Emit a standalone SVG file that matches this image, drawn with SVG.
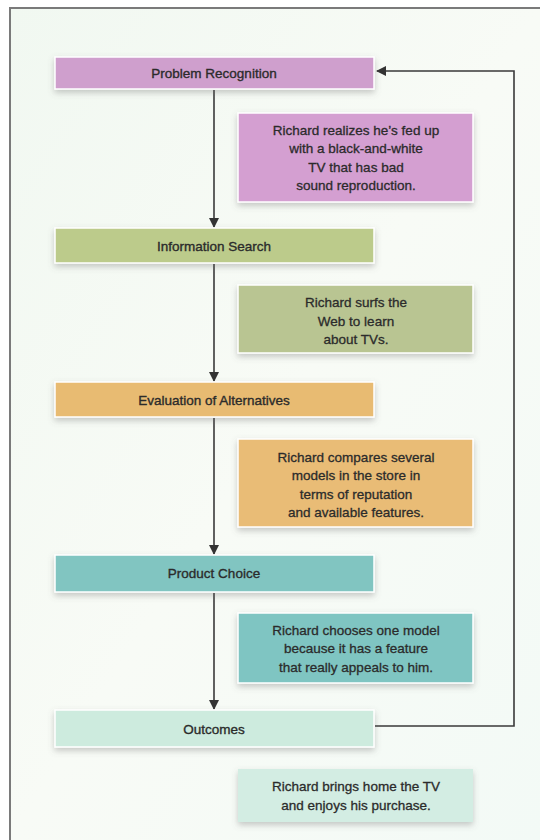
<svg xmlns="http://www.w3.org/2000/svg" width="540" height="840" viewBox="0 0 540 840">
<defs>
<linearGradient id="bg" x1="0" y1="0" x2="1" y2="1">
<stop offset="0" stop-color="#f1f8f1"/>
<stop offset="0.5" stop-color="#f8fbf6"/>
<stop offset="1" stop-color="#f3faf6"/>
</linearGradient>
<filter id="sh" x="-10%" y="-30%" width="120%" height="170%">
<feDropShadow dx="0" dy="3" stdDeviation="3" flood-color="#666" flood-opacity="0.35"/>
</filter>
<marker id="ah" viewBox="0 0 10 10" refX="9" refY="5" markerWidth="10" markerHeight="11" markerUnits="userSpaceOnUse" orient="auto">
<path d="M0,0 L10,5 L0,10 z" fill="#333"/>
</marker>
</defs>
<style>
.t{font-family:"Liberation Sans","DejaVu Sans",Arial,sans-serif;font-size:13.5px;fill:#2b2b2b;stroke:#2b2b2b;stroke-width:0.35;text-anchor:middle}
.box{stroke:#ffffff;stroke-width:1.5;filter:url(#sh)}
.d{font-family:"Liberation Sans","DejaVu Sans",Arial,sans-serif;font-size:13.5px;fill:#2b2b2b;stroke:#2b2b2b;stroke-width:0.3;text-anchor:middle}
.c{fill:none;stroke:#3a3a3a;stroke-width:1.6}
</style>
<rect x="0" y="0" width="540" height="840" fill="#ffffff"/>
<rect x="10" y="8" width="530" height="832" fill="url(#bg)"/>
<path d="M10,840 L10,8 L540,8" fill="none" stroke="#7a7a7a" stroke-width="2"/>

<g id="connectors">
<line class="c" x1="214" y1="90" x2="214" y2="227" marker-end="url(#ah)"/>
<line class="c" x1="214" y1="264" x2="214" y2="381" marker-end="url(#ah)"/>
<line class="c" x1="214" y1="418" x2="214" y2="554" marker-end="url(#ah)"/>
<line class="c" x1="214" y1="593" x2="214" y2="709" marker-end="url(#ah)"/>
<polyline class="c" points="375,726 514,726 514,71 377,71" marker-end="url(#ah)"/>
</g>

<g id="problem-recognition">
<rect class="box" x="55" y="57" width="319" height="32" fill="#cf9fcd"/>
<text class="t" x="214" y="78">Problem Recognition</text>
</g>
<g id="problem-note">
<rect class="box" x="238" y="113" width="235" height="89" fill="#d49fd1"/>
<text class="d" x="356" y="135">Richard realizes he’s fed up</text>
<text class="d" x="356" y="153">with a black-and-white</text>
<text class="d" x="356" y="172">TV that has bad</text>
<text class="d" x="356" y="190">sound reproduction.</text>
</g>

<g id="information-search">
<rect class="box" x="55" y="228" width="319" height="35" fill="#bccb8b"/>
<text class="t" x="214" y="251">Information Search</text>
</g>
<g id="search-note">
<rect class="box" x="238" y="285" width="235" height="68" fill="#b9c592"/>
<text class="d" x="356" y="307">Richard surfs the</text>
<text class="d" x="356" y="326">Web to learn</text>
<text class="d" x="356" y="344">about TVs.</text>
</g>

<g id="evaluation-of-alternatives">
<rect class="box" x="55" y="382" width="319" height="35" fill="#e8bb72"/>
<text class="t" x="214" y="405">Evaluation of Alternatives</text>
</g>
<g id="evaluation-note">
<rect class="box" x="238" y="439" width="235" height="88" fill="#e9bc76"/>
<text class="d" x="356" y="462">Richard compares several</text>
<text class="d" x="356" y="480">models in the store in</text>
<text class="d" x="356" y="499">terms of reputation</text>
<text class="d" x="356" y="517">and available features.</text>
</g>

<g id="product-choice">
<rect class="box" x="55" y="555" width="319" height="37" fill="#81c5c1"/>
<text class="t" x="214" y="578">Product Choice</text>
</g>
<g id="choice-note">
<rect class="box" x="238" y="613" width="235" height="70" fill="#7fc5c2"/>
<text class="d" x="356" y="635">Richard chooses one model</text>
<text class="d" x="356" y="653">because it has a feature</text>
<text class="d" x="356" y="672">that really appeals to him.</text>
</g>

<g id="outcomes">
<rect class="box" x="55" y="710" width="319" height="37" fill="#cdebde"/>
<text class="t" x="214" y="734">Outcomes</text>
</g>
<g id="outcomes-note">
<rect x="238" y="769" width="235" height="53" fill="#d3ede3" filter="url(#sh)"/>
<text class="d" x="356" y="791">Richard brings home the TV</text>
<text class="d" x="356" y="810">and enjoys his purchase.</text>
</g>
</svg>
